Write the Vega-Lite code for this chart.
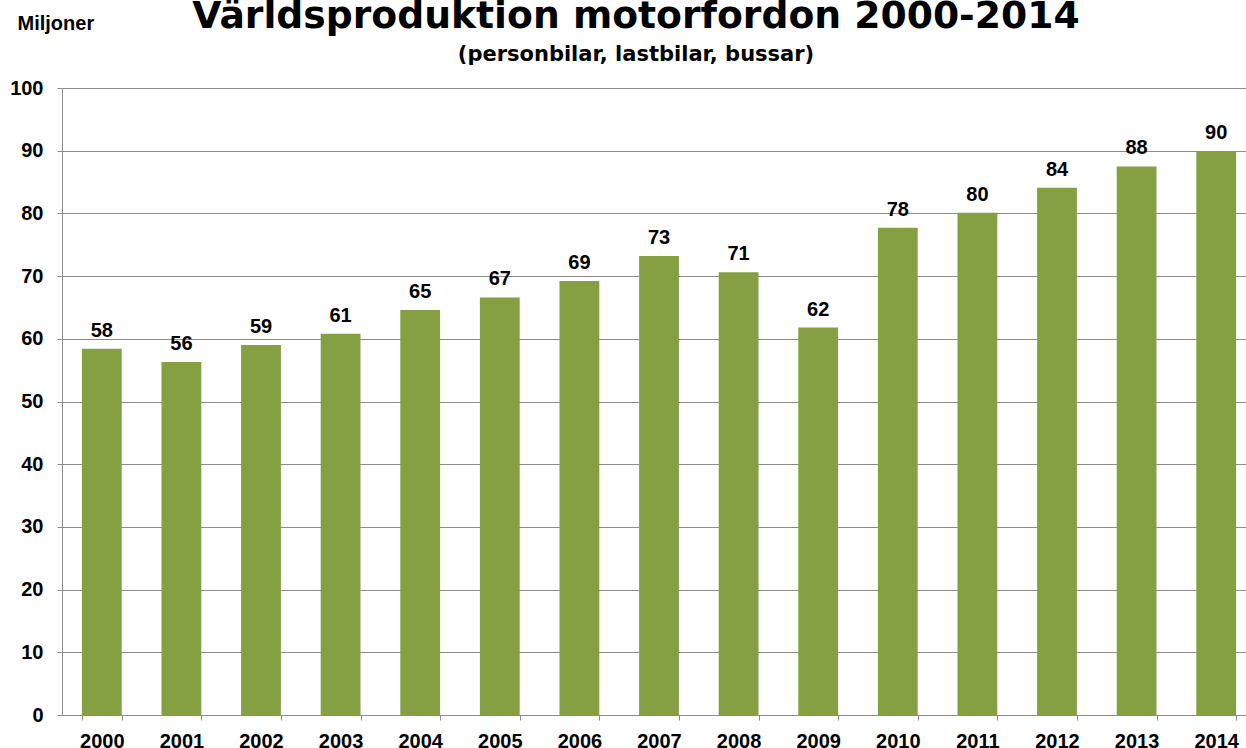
{
  "$schema": "https://vega.github.io/schema/vega-lite/v6.json",
  "width": 1184,
  "height": 627,
  "autosize": {"type": "none"},
  "padding": {"left": 62, "top": 88, "right": 0, "bottom": 33},
  "background": "white",
  "title": {
    "text": "Världsproduktion motorfordon 2000-2014",
    "subtitle": "(personbilar, lastbilar, bussar)",
    "anchor": "middle",
    "frame": "group",
    "dx": -18,
    "offset": -52,
    "subtitlePadding": 8,
    "font": "DejaVu Sans",
    "fontSize": 37.7,
    "fontWeight": "bold",
    "color": "black",
    "subtitleFont": "DejaVu Sans",
    "subtitleFontSize": 21,
    "subtitleFontWeight": "bold",
    "subtitleColor": "black"
  },
  "data": {
    "values": [
      {"year": "2000", "value": 58.4},
      {"year": "2001", "value": 56.3},
      {"year": "2002", "value": 59.0},
      {"year": "2003", "value": 60.8},
      {"year": "2004", "value": 64.6},
      {"year": "2005", "value": 66.6},
      {"year": "2006", "value": 69.2},
      {"year": "2007", "value": 73.2},
      {"year": "2008", "value": 70.6},
      {"year": "2009", "value": 61.8},
      {"year": "2010", "value": 77.7},
      {"year": "2011", "value": 80.1},
      {"year": "2012", "value": 84.1},
      {"year": "2013", "value": 87.5},
      {"year": "2014", "value": 89.9}
    ]
  },
  "encoding": {
    "x": {
      "field": "year",
      "type": "ordinal",
      "scale": {"range": [0, 1194], "paddingInner": 0.5, "paddingOuter": 0.25},
      "axis": {
        "title": null,
        "labelAngle": 0,
        "tickBand": "extent",
        "tickSize": 5,
        "tickColor": "#8c8c8c",
        "domainColor": "#8c8c8c",
        "labelFont": "Liberation Sans",
        "labelFontSize": 20,
        "labelFontWeight": "bold",
        "labelColor": "black",
        "labelPadding": 11,
        "grid": false
      }
    },
    "y": {
      "field": "value",
      "type": "quantitative",
      "scale": {"domain": [0, 100], "nice": false},
      "axis": {
        "title": "Miljoner",
        "titleAngle": 0,
        "titleAlign": "left",
        "titleBaseline": "alphabetic",
        "titleX": -45,
        "titleY": -59,
        "titleFont": "Liberation Sans",
        "titleFontSize": 20,
        "titleFontWeight": "bold",
        "titleColor": "black",
        "values": [0, 10, 20, 30, 40, 50, 60, 70, 80, 90, 100],
        "labelFont": "Liberation Sans",
        "labelFontSize": 20,
        "labelFontWeight": "bold",
        "labelColor": "black",
        "labelPadding": 14,
        "tickSize": 5,
        "tickColor": "#8c8c8c",
        "domainColor": "#8c8c8c",
        "grid": true,
        "gridColor": "#8c8c8c",
        "gridWidth": 1
      }
    }
  },
  "layer": [
    {"mark": {"type": "bar", "color": "#84A043"}},
    {
      "mark": {"type": "text", "font": "Liberation Sans", "fontSize": 20, "fontWeight": "bold", "color": "black", "baseline": "alphabetic", "dy": -12},
      "encoding": {"text": {"field": "value", "type": "quantitative", "format": ".0f"}}
    }
  ],
  "config": {"view": {"stroke": null}}
}
